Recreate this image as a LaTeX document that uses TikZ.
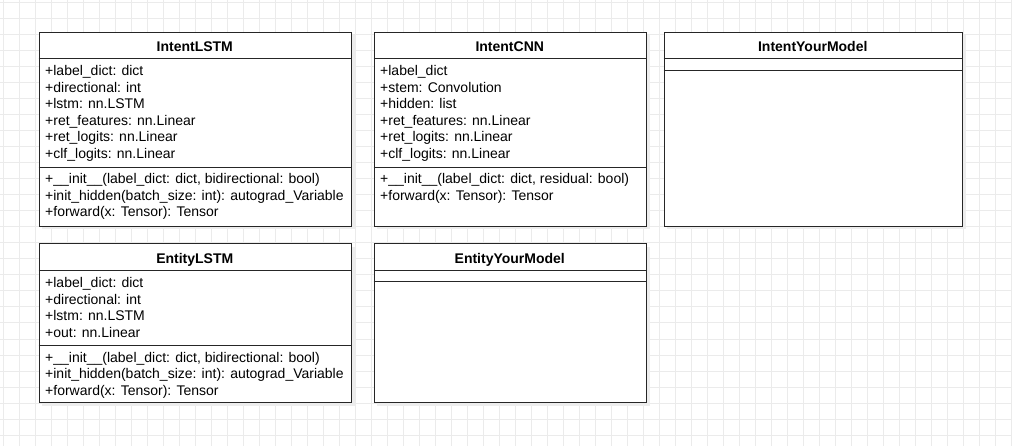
\documentclass[tikz,border=0pt]{standalone}
\usepackage{fontspec}
\setmainfont{Liberation Sans}
\usetikzlibrary{shadows}

\tikzset{
  classbox/.style={draw=black!85, line width=1pt, fill=white, anchor=north west, inner sep=0pt,
    drop shadow={shadow xshift=3pt, shadow yshift=-3pt, fill=black!7, opacity=1}},
  classline/.style={draw=black!85, line width=1pt},
  classtitle/.style={anchor=base, inner sep=0pt, font=\fontsize{14}{16.5}\selectfont\bfseries},
  classtext/.style={anchor=base west, inner sep=0pt, font=\fontsize{14}{16.5}\selectfont}
}

\begin{document}
\begin{tikzpicture}[x=1pt,y=-1pt]
    \useasboundingbox (0,0) rectangle (1012,446);
    % background grid
    \fill[white] (0,0) rectangle (1012,446);
    \foreach \g in {3,19,...,1011} \draw[black!8, line width=1pt] (\g,0) -- (\g,446);
    \foreach \g in {3,19,...,446} \draw[black!8, line width=1pt] (0,\g) -- (1012,\g);

    % IntentLSTM
    \node[classbox, minimum width=312.5, minimum height=194] (intentlstm) at (38.5,32) {};
    \node[classtitle] (intentlstmtitle) at (194.75,51.5) {IntentLSTM};
    \path[classline] (38.5,58.5) -- (351,58.5);
    \path[classline] (38.5,168) -- (351,168);
    \foreach \txt [count=\i] in {+label\_dict: dict, +directional: int, +lstm: nn.LSTM,
        +ret\_features: nn.Linear, +ret\_logits: nn.Linear, +clf\_logits: nn.Linear}
      \node[classtext] (intentlstmattr\i) at (45,{75.7+16.5*(\i-1)}) {\txt};
    \foreach \txt [count=\i] in {{+\_\_init\_\_(label\_dict: dict, bidirectional: bool)},
        {+init\_hidden(batch\_size: int): autograd\_Variable}, {+forward(x: Tensor): Tensor}}
      \node[classtext] (intentlstmop\i) at (45,{184+16.5*(\i-1)}) {\txt};

    % IntentCNN
    \node[classbox, minimum width=272.5, minimum height=194] (intentcnn) at (373.5,32) {};
    \node[classtitle] (intentcnntitle) at (509.75,51.5) {IntentCNN};
    \path[classline] (373.5,58.5) -- (646,58.5);
    \path[classline] (373.5,168) -- (646,168);
    \foreach \txt [count=\i] in {+label\_dict, +stem: Convolution, +hidden: list,
        +ret\_features: nn.Linear, +ret\_logits: nn.Linear, +clf\_logits: nn.Linear}
      \node[classtext] (intentcnnattr\i) at (380,{75.7+16.5*(\i-1)}) {\txt};
    \foreach \txt [count=\i] in {{+\_\_init\_\_(label\_dict: dict, residual: bool)},
        {+forward(x: Tensor): Tensor}}
      \node[classtext] (intentcnnop\i) at (380,{184+16.5*(\i-1)}) {\txt};

    % IntentYourModel
    \node[classbox, minimum width=298.5, minimum height=194] (intentyours) at (663.5,32) {};
    \node[classtitle] (intentyourstitle) at (812.75,51.5) {IntentYourModel};
    \path[classline] (663.5,59) -- (962,59);
    \path[classline] (663.5,70.5) -- (962,70.5);

    % EntityLSTM
    \node[classbox, minimum width=312.5, minimum height=158.5] (entitylstm) at (38.5,243.5) {};
    \node[classtitle] (entitylstmtitle) at (194.75,263.3) {EntityLSTM};
    \path[classline] (38.5,271) -- (351,271);
    \path[classline] (38.5,345) -- (351,345);
    \foreach \txt [count=\i] in {+label\_dict: dict, +directional: int, +lstm: nn.LSTM,
        +out: nn.Linear}
      \node[classtext] (entitylstmattr\i) at (45,{287.7+16.5*(\i-1)}) {\txt};
    \foreach \txt [count=\i] in {{+\_\_init\_\_(label\_dict: dict, bidirectional: bool)},
        {+init\_hidden(batch\_size: int): autograd\_Variable}, {+forward(x: Tensor): Tensor}}
      \node[classtext] (entitylstmop\i) at (45,{362+16.5*(\i-1)}) {\txt};

    % EntityYourModel
    \node[classbox, minimum width=272.5, minimum height=158.5] (entityyours) at (373.5,243.5) {};
    \node[classtitle] (entityyourstitle) at (509.75,263.3) {EntityYourModel};
    \path[classline] (373.5,271) -- (646,271);
    \path[classline] (373.5,282) -- (646,282);
\end{tikzpicture}
\end{document}
